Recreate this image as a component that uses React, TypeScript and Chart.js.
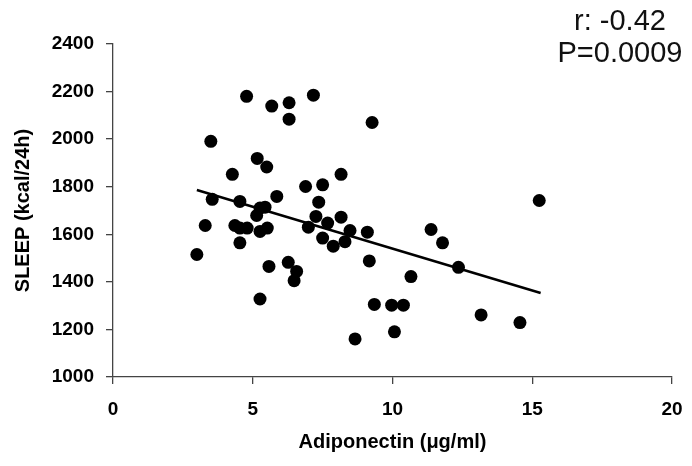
import React, { useEffect, useRef } from "react";
import { Chart, registerables } from "chart.js";

Chart.register(...registerables);

// Adiponectin (µg/ml)
const adiponectin = [
  3.0, 3.3, 3.5, 3.55, 4.27, 4.36, 4.54, 4.54, 4.54, 4.78, 4.8, 5.14, 5.16, 5.26,
  5.26, 5.26, 5.44, 5.5, 5.52, 5.58, 5.68, 5.86, 6.27, 6.3, 6.3, 6.48, 6.57, 6.89,
  6.99, 7.17, 7.26, 7.36, 7.5, 7.5, 7.68, 7.88, 8.16, 8.16, 8.3, 8.48, 8.66, 9.1,
  9.17, 9.27, 9.35, 9.97, 10.07, 10.39, 10.66, 11.38, 11.79, 12.36, 13.17, 14.56, 15.25,
];
// SLEEP energy expenditure (kcal/24h)
const sleepKcal = [
  1515, 1637, 1991, 1747, 1852, 1637, 1738, 1626, 1564, 2180, 1626, 1679, 1919, 1710,
  1612, 1328, 1714, 1883, 1626, 1465, 2139, 1759, 1482, 2153, 2084, 1405, 1444, 1801,
  1630, 2185, 1675, 1735, 1808, 1584, 1647, 1550, 1852, 1672, 1569, 1616, 1160, 1609,
  1488, 2070, 1305, 1302, 1190, 1302, 1422, 1620, 1564, 1461, 1261, 1229, 1742,
];
// regression line end points
const fitX = [3.0, 15.3];
const fitY = [1786, 1353];

const annotationLines = ["r: -0.42", "P=0.0009"];

const FONT = "'Liberation Sans', Arial, Helvetica, sans-serif";

export default function App() {
  const ref = useRef<HTMLCanvasElement | null>(null);

  useEffect(() => {
    if (!ref.current) return;
    const annot = {
      id: "annot",
      afterDraw(chart: any) {
        const ctx = chart.ctx;
        ctx.save();
        ctx.fillStyle = "#111";
        ctx.font = `29px ${FONT}`;
        ctx.textAlign = "center";
        ctx.textBaseline = "middle";
        ctx.fillText(annotationLines[0], 620, 22);
        ctx.fillText(annotationLines[1], 620, 54);
        ctx.restore();
      },
    };
    const chart = new Chart(ref.current, {
      type: "scatter",
      data: {
        datasets: [
          {
            type: "scatter",
            data: adiponectin.map((x, i) => ({ x, y: sleepKcal[i] })),
            backgroundColor: "#000",
            borderColor: "#000",
            pointRadius: 6.5,
            pointHoverRadius: 6.5,
            borderWidth: 0,
          },
          {
            type: "line",
            data: fitX.map((x, i) => ({ x, y: fitY[i] })),
            borderColor: "#000",
            borderWidth: 2.5,
            pointRadius: 0,
            fill: false,
          } as any,
        ],
      },
      options: {
        animation: false,
        responsive: false,
        events: [],
        layout: { padding: { top: 44, right: 20, left: 0, bottom: 0 } },
        plugins: {
          legend: { display: false },
          tooltip: { enabled: false },
        },
        scales: {
          x: {
            type: "linear",
            min: 0,
            max: 20,
            afterFit(scale: any) {
              scale.height = 89;
              scale.paddingLeft = 0;
              scale.paddingRight = 0;
            },
            ticks: {
              stepSize: 5,
              color: "#000",
              padding: 14,
              font: { family: FONT, size: 19, weight: "bold" },
              callback: (v: any) => String(v),
            },
            grid: {
              display: true,
              drawOnChartArea: false,
              drawTicks: true,
              tickLength: 7,
              color: "#444",
              lineWidth: 1.3,
            },
            border: { display: true, color: "#444", width: 1.3 },
            title: {
              display: true,
              text: "Adiponectin (\u03bcg/ml)",
              color: "#000",
              font: { family: FONT, size: 20, weight: "bold" },
              padding: { top: 0, bottom: 12 },
            },
          },
          y: {
            type: "linear",
            min: 1000,
            max: 2400,
            afterFit(scale: any) {
              scale.width = 113;
              scale.paddingTop = 0;
              scale.paddingBottom = 0;
            },
            ticks: {
              stepSize: 200,
              color: "#000",
              padding: 12,
              font: { family: FONT, size: 19, weight: "bold" },
              callback: (v: any) => String(v),
            },
            grid: {
              display: true,
              drawOnChartArea: false,
              drawTicks: true,
              tickLength: 7,
              color: "#444",
              lineWidth: 1.3,
            },
            border: { display: true, color: "#444", width: 1.3 },
            title: {
              display: true,
              text: "SLEEP (kcal/24h)",
              color: "#000",
              font: { family: FONT, size: 20, weight: "bold" },
              padding: { top: 11, bottom: 0 },
            },
          },
        },
      },
      plugins: [annot],
    });
    return () => chart.destroy();
  }, []);

  return (
    <div style={{ position: "fixed", left: 0, top: 0, width: 692, height: 466, background: "#fff" }}>
      <canvas ref={ref} width={692} height={466} />
    </div>
  );
}
